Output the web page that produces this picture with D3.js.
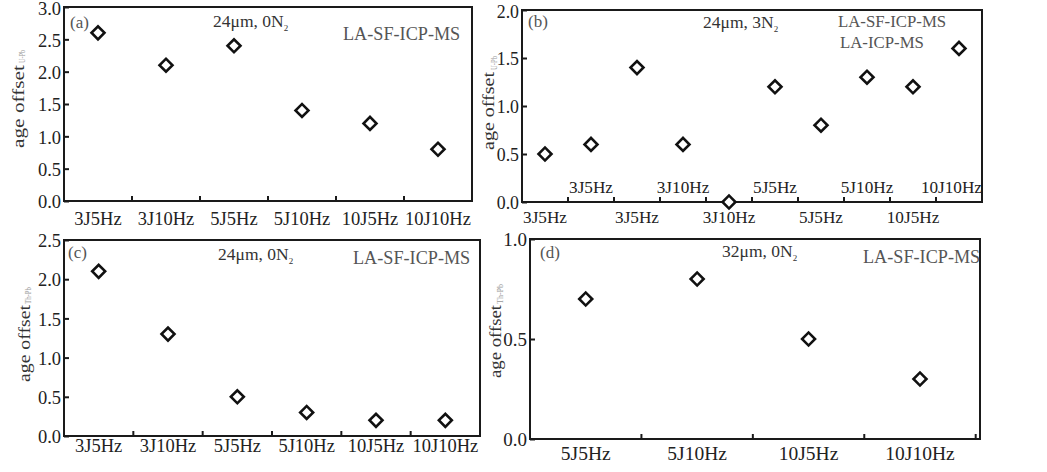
<!DOCTYPE html>
<html>
<head>
<meta charset="utf-8">
<script src="https://cdnjs.cloudflare.com/ajax/libs/d3/7.8.5/d3.min.js"></script>
<style>
  html, body { margin: 0; padding: 0; background: #fff; }
  svg { display: block; }
  text { font-family: "Liberation Serif", "Times New Roman", serif; }
</style>
</head>
<body>
<svg id="chart" width="1047" height="472"></svg>
<script>
// ---------------- data ----------------
const catsA = ["3J5Hz", "3J10Hz", "5J5Hz", "5J10Hz", "10J5Hz", "10J10Hz"];
const valsA = [2.6, 2.1, 2.4, 1.4, 1.2, 0.8];
const yTicksA = [0, 0.5, 1.0, 1.5, 2.0, 2.5, 3.0];

const catsB = ["3J5Hz", "3J5Hz", "3J5Hz", "3J10Hz", "3J10Hz", "5J5Hz", "5J5Hz", "5J10Hz", "10J5Hz", "10J10Hz"];
const valsB = [0.5, 0.6, 1.4, 0.6, 0.0, 1.2, 0.8, 1.3, 1.2, 1.6];
const yTicksB = [0, 0.5, 1.0, 1.5, 2.0];

const catsC = ["3J5Hz", "3J10Hz", "5J5Hz", "5J10Hz", "10J5Hz", "10J10Hz"];
const valsC = [2.1, 1.3, 0.5, 0.3, 0.2, 0.2];
const yTicksC = [0, 0.5, 1.0, 1.5, 2.0, 2.5];

const catsD = ["5J5Hz", "5J10Hz", "10J5Hz", "10J10Hz"];
const valsD = [0.7, 0.8, 0.5, 0.3];
const yTicksD = [0, 0.5, 1.0];

// ---------------- panels ----------------
const svg = d3.select("#chart");

const panels = [
  { cats: catsA, vals: valsA, yTicks: yTicksA, letter: "(a)", cond: "24μm, 0N", methods: ["LA-SF-ICP-MS"], sub: "U-Pb",
    box: { l: 64, t: 7, r: 472, b: 201 }, xr: [64, 472], tickFs: 18.5, yFs: 18.5, lblBase: 24, stagger: false,
    title: { x: 24, y0: 148, len: 83, fs: 17.5 }, subPos: { x: 25, y0: 63, len: 13 },
    letterPos: [70, 28], condPos: [213, 27], methodPos: [[343, 40]] },
  { cats: catsB, vals: valsB, yTicks: yTicksB, letter: "(b)", cond: "24μm, 3N", methods: ["LA-SF-ICP-MS", "LA-ICP-MS"], sub: "U-Pb",
    box: { l: 522, t: 10, r: 982, b: 202 }, xr: [522, 982], tickFs: 17.2, yFs: 17.8, lblBase: 21, stagger: true,
    title: { x: 494, y0: 150, len: 78, fs: 16.5 }, subPos: { x: 497, y0: 70, len: 14 },
    letterPos: [528, 27], condPos: [703, 28], methodPos: [[838, 27], [840, 48]] },
  { cats: catsC, vals: valsC, yTicks: yTicksC, letter: "(c)", cond: "24μm, 0N", methods: ["LA-SF-ICP-MS"], sub: "Th-Pb",
    box: { l: 64, t: 240, r: 480, b: 436 }, xr: [64, 480], tickFs: 18.5, yFs: 18.5, lblBase: 16, stagger: false,
    title: { x: 30, y0: 382, len: 77, fs: 17.5 }, subPos: { x: 31, y0: 304, len: 17 },
    letterPos: [68, 258], condPos: [218, 260], methodPos: [[353, 264]] },
  { cats: catsD, vals: valsD, yTicks: yTicksD, letter: "(d)", cond: "32μm, 0N", methods: ["LA-SF-ICP-MS"], sub: "Th-Pb",
    box: { l: 530, t: 239, r: 980, b: 439 }, xr: [530, 975.7], tickFs: 19.5, yFs: 19, lblBase: 21, stagger: false,
    title: { x: 501, y0: 378, len: 73, fs: 16.5 }, subPos: { x: 503, y0: 304, len: 20 },
    letterPos: [540, 258], condPos: [722, 257], methodPos: [[863, 263]] }
];

panels.forEach(p => {
  const g = svg.append("g");
  const B = p.box;
  const idx = p.cats.map((c, i) => i);
  const x = d3.scaleBand().domain(idx).range(p.xr).padding(0);
  const yMax = p.yTicks[p.yTicks.length - 1];
  const y = d3.scaleLinear().domain([0, yMax]).range([B.b, B.t]);

  // frame
  g.append("rect")
    .attr("x", B.l).attr("y", B.t)
    .attr("width", B.r - B.l).attr("height", B.b - B.t)
    .attr("fill", "none").attr("stroke", "#1a1a1a").attr("stroke-width", 2);

  // y axis
  const yAxis = d3.axisLeft(y).tickValues(p.yTicks).tickFormat(d3.format(".1f"))
    .tickSizeInner(-5).tickSizeOuter(0).tickPadding(3);
  const ya = g.append("g").attr("transform", `translate(${B.l},0)`).call(yAxis);
  ya.select(".domain").remove();
  ya.selectAll(".tick line").attr("stroke", "#1a1a1a").attr("stroke-width", 2);
  ya.selectAll(".tick text")
    .attr("font-family", "Liberation Serif, serif")
    .attr("font-size", p.yFs).attr("fill", "#222")
    .attr("dy", (d, i, n) => (B.t < 20 && i === n.length - 1) ? "0.42em" : "0.36em");

  // x boundary ticks (inward)
  const bounds = idx.map(i => x(i) + x.bandwidth());
  g.selectAll(".xb").data(bounds).enter().append("line")
    .attr("x1", d => d).attr("x2", d => d)
    .attr("y1", B.b).attr("y2", B.b - 5)
    .attr("stroke", "#1a1a1a").attr("stroke-width", 2);

  // x labels via axis
  const xAxis = d3.axisBottom(x).tickFormat(i => p.cats[i]).tickSize(0);
  const xa = g.append("g").attr("transform", `translate(0,${B.b})`).call(xAxis);
  xa.select(".domain").remove();
  xa.selectAll(".tick text")
    .attr("font-family", "Liberation Serif, serif")
    .attr("font-size", p.tickFs).attr("fill", "#222")
    .attr("dy", null)
    .attr("y", (d, i) => (p.stagger && i % 2 === 1) ? -9.5 : p.lblBase);
  // clamp labels inside right frame
  xa.selectAll(".tick").each(function(d) {
    const t = d3.select(this).select("text");
    const w = t.node().getComputedTextLength();
    const cx = x(d) + x.bandwidth() / 2;
    if (cx + w / 2 > B.r) t.attr("text-anchor", "end").attr("x", B.r - cx);
  });

  // points (diamonds)
  const diamond = d3.symbol().type(d3.symbolSquare).size(84);
  g.selectAll(".pt").data(p.vals).enter().append("path")
    .attr("d", diamond)
    .attr("transform", (d, i) => `translate(${x(i) + x.bandwidth() / 2},${y(d)}) rotate(45)`)
    .attr("fill", "#fff").attr("stroke", "#111").attr("stroke-width", 2.6);

  // y title
  g.append("text")
    .attr("transform", `translate(${p.title.x},${p.title.y0}) rotate(-90)`)
    .attr("font-size", p.title.fs).attr("fill", "#333")
    .attr("textLength", p.title.len).attr("lengthAdjust", "spacingAndGlyphs")
    .text("age offset");
  g.append("text")
    .attr("transform", `translate(${p.subPos.x},${p.subPos.y0}) rotate(-90)`)
    .attr("font-size", 7.5).attr("fill", "#999")
    .attr("textLength", p.subPos.len).attr("lengthAdjust", "spacingAndGlyphs")
    .text(p.sub);

  // annotations
  g.append("text").attr("x", p.letterPos[0]).attr("y", p.letterPos[1])
    .attr("font-size", 17).attr("fill", "#555").text(p.letter);
  const ct = g.append("text").attr("x", p.condPos[0]).attr("y", p.condPos[1])
    .attr("font-size", 17.5).attr("fill", "#333");
  ct.append("tspan").text(p.cond);
  ct.append("tspan").attr("font-size", 9).attr("dy", 4).text("2");
  p.methods.forEach((m, k) => {
    g.append("text").attr("x", p.methodPos[k][0]).attr("y", p.methodPos[k][1])
      .attr("font-size", p.stagger ? 16.8 : 18.2).attr("fill", "#555").text(m);
  });
});
</script>
</body>
</html>
